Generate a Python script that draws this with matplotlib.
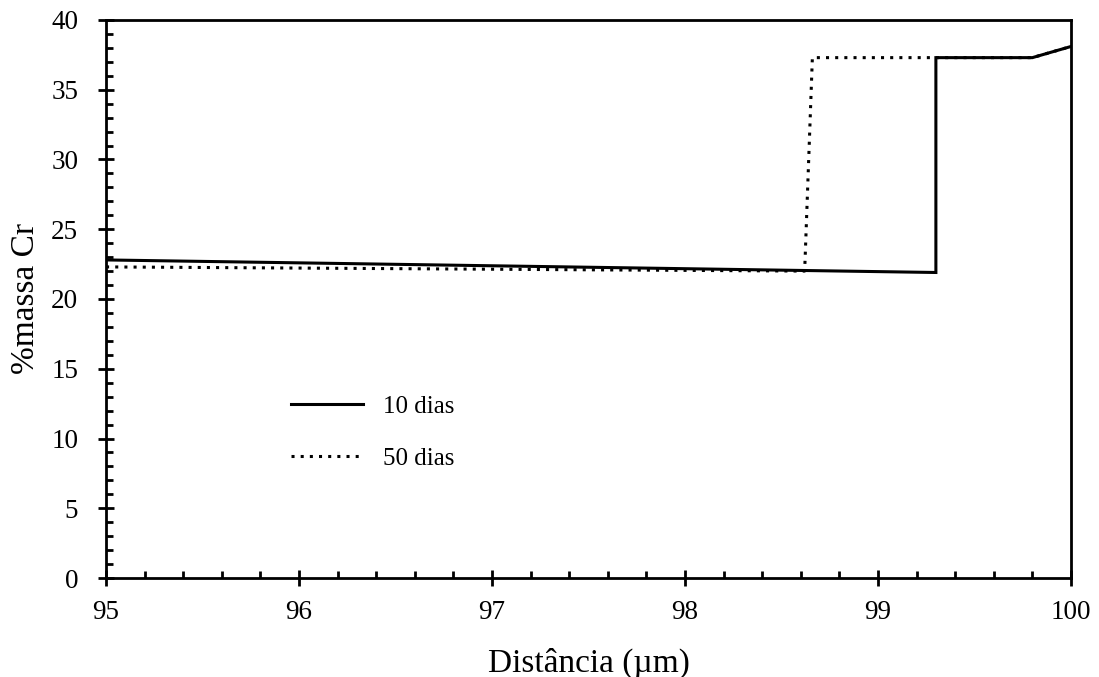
import matplotlib
matplotlib.use("Agg")
import matplotlib.pyplot as plt
from matplotlib.ticker import MultipleLocator

# Cr profile (wt %) across distance (µm)
x_10 = [95.0, 99.3, 99.3, 99.8, 100.0]
cr_10 = [22.8, 21.9, 37.3, 37.3, 38.1]

x_50 = [95.0, 98.62, 98.66, 99.8, 100.0]
cr_50 = [22.3, 22.0, 37.3, 37.3, 38.1]

labels = ["10 dias", "50 dias"]

plt.rcParams["font.family"] = ["Liberation Serif", "DejaVu Serif"]

fig = plt.figure(figsize=(10.99, 6.77), dpi=100)
ax = fig.add_axes([0.0965, 0.1462, 0.878, 0.8243])

ax.plot(x_50, cr_50, color="black", lw=2.2, linestyle=(0, (1, 2.0)), label=labels[1])
ax.plot(x_10, cr_10, color="black", lw=2.2, solid_joinstyle="miter", label=labels[0])

ax.set_xlim(95, 100)
ax.set_ylim(0, 40)
ax.xaxis.set_major_locator(MultipleLocator(1))
ax.xaxis.set_minor_locator(MultipleLocator(0.2))
ax.yaxis.set_major_locator(MultipleLocator(5))
ax.yaxis.set_minor_locator(MultipleLocator(1))

ax.tick_params(which="major", direction="inout", length=12, width=2.0, labelsize=19.5,
               top=False, right=False)
ax.tick_params(axis="x", which="major", pad=10)
ax.tick_params(axis="y", which="major", pad=14)
ax.tick_params(which="minor", direction="in", length=5, width=2.0, top=False, right=False)
for s in ax.spines.values():
    s.set_linewidth(2.0)

ax.set_xlabel("Distância (µm)", fontsize=24, labelpad=16)
ax.set_ylabel("%massa Cr", fontsize=24, labelpad=7)

h, l = ax.get_legend_handles_labels()
leg = ax.legend([h[1], h[0]], [l[1], l[0]], loc="upper left",
                bbox_to_anchor=(0.168, 0.368), frameon=False, fontsize=18,
                handlelength=2.9, labelspacing=1.2, handletextpad=0.8)

fig.savefig("out.png", dpi=100)
